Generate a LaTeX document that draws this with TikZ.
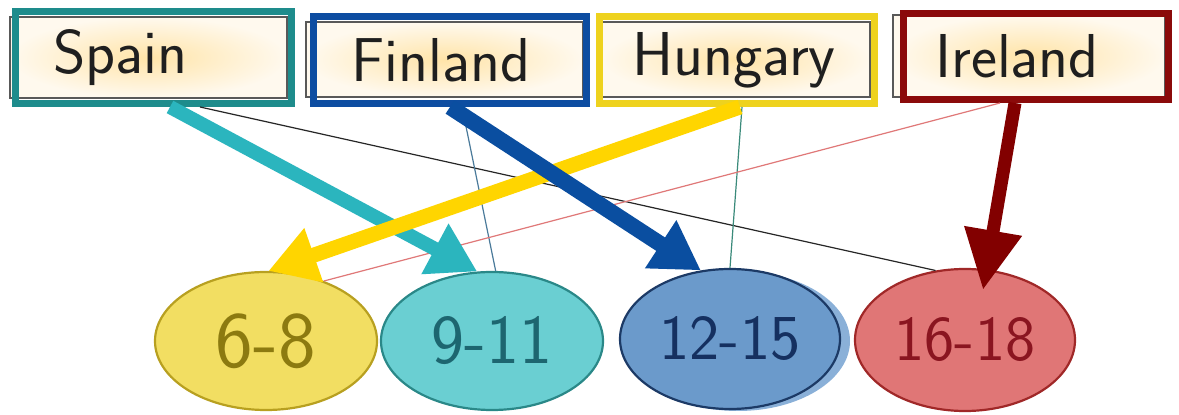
\documentclass[tikz,border=0pt]{standalone}
\usepackage{fontspec}
\usetikzlibrary{arrows.meta,shapes.geometric,calc}
\definecolor{tealframe}{HTML}{1E8C8C}
\definecolor{blueframe}{HTML}{0D4DA1}
\definecolor{yellowframe}{HTML}{EED21E}
\definecolor{redframe}{HTML}{8B0A0A}
\definecolor{tealarrow}{HTML}{2BB5BE}
\definecolor{bluearrow}{HTML}{0A4EA0}
\definecolor{yellowarrow}{HTML}{FFD500}
\definecolor{redarrow}{HTML}{820000}
\definecolor{creamout}{HTML}{FFF9EE}
\definecolor{creamin}{HTML}{FFE4A8}
\definecolor{yfill}{HTML}{F2DE62}
\definecolor{ydraw}{HTML}{B8A020}
\definecolor{ytext}{HTML}{8C7A10}
\definecolor{tfill}{HTML}{6ACFD2}
\definecolor{tdraw}{HTML}{2A8888}
\definecolor{ttext}{HTML}{1D6670}
\definecolor{bfill}{HTML}{6B9ACB}
\definecolor{bshadow}{HTML}{8AB0D8}
\definecolor{bdraw}{HTML}{1C3A66}
\definecolor{btext}{HTML}{153060}
\definecolor{rfill}{HTML}{E07676}
\definecolor{rdraw}{HTML}{A02828}
\definecolor{rtext}{HTML}{8A1520}
\definecolor{thinblue}{HTML}{4A7A9A}
\definecolor{thingreen}{HTML}{3A8A7A}
\definecolor{thinsalmon}{HTML}{E07878}
\begin{document}
\begin{tikzpicture}[x=1pt,y=1pt,
  boxframe/.style={draw, line width=7pt, inner sep=0pt, minimum height=92pt,
    font=\sffamily\fontsize{62}{62}\selectfont, text=black!88},
  innerbox/.style={draw=black!65, line width=1.3pt, shading=radial,
    inner color=creamin, outer color=creamout},
  agebubble/.style={ellipse, draw, line width=2.2pt, minimum width=222pt,
    minimum height=138pt, inner sep=0pt},
  bigarrow/.style={-{Triangle[length=48pt,width=54pt]}, line width=15pt},
  thinline/.style={line width=1.2pt}]
\useasboundingbox (0,0) rectangle (1179,415);
\fill[white] (0,0) rectangle (1179,415);
% inner boxes
\path[innerbox] (10,317) rectangle (287,398);
\path[innerbox] (306,318) rectangle (583,393);
\path[innerbox] (602,318) rectangle (870,393);
\path[innerbox] (893,318) rectangle (1165,400);
% frames with labels
\node[boxframe, draw=tealframe, minimum width=276pt] (spain) at (153.5,357.5) {\hspace*{-66pt}Spain};
\node[boxframe, draw=blueframe, minimum width=273pt, minimum height=87pt] (finland) at (450,355) {\hspace*{-18pt}Finland};
\node[boxframe, draw=yellowframe, minimum width=275pt, minimum height=87pt] (hungary) at (737,355) {\hspace*{-6pt}Hungary};
\node[boxframe, draw=redframe, minimum width=265pt, minimum height=86pt] (ireland) at (1036,358.5) {\hspace*{-38pt}Ireland};
% ellipses
\fill[bshadow] (738,74) ellipse [x radius=112, y radius=70];
\node[agebubble, fill=yfill, draw=ydraw, text=ytext, font=\sffamily\fontsize{80}{80}\selectfont] (e68) at (266,74) {6-8};
\node[agebubble, fill=tfill, draw=tdraw, text=ttext, font=\sffamily\fontsize{70}{70}\selectfont] (e911) at (492,74) {9-11};
\node[agebubble, fill=bfill, draw=bdraw, text=btext, minimum width=220pt, minimum height=140pt, font=\sffamily\fontsize{64}{64}\selectfont] (e1215) at (730,76) {12-15};
\node[agebubble, fill=rfill, draw=rdraw, text=rtext, minimum width=220pt, minimum height=142pt, font=\sffamily\fontsize{64}{64}\selectfont] (e1618) at (965,75) {16-18};
% thin connectors
\draw[thinline, black!85] ([xshift=46.5pt]spain.south) -- (e1618.113);
\draw[thinline, thinblue] ([xshift=12pt]finland.south) -- (e911.87);
\draw[thinline, thingreen] ([xshift=5pt]hungary.south) -- (e1215.90);
\draw[thinline, thinsalmon] ([xshift=-36pt]ireland.south) -- (e68.46);
% thick arrows
\draw[bigarrow, tealarrow, line width=14pt] ([xshift=16.5pt]spain.south) -- (e911.102);
\draw[bigarrow, yellowarrow] ([xshift=3pt]hungary.south) -- (e68.88);
\draw[bigarrow, bluearrow, line width=16pt] ([xshift=0pt]finland.south) -- (e1215.113);
\draw[bigarrow, redarrow, line width=13pt, -{Triangle[length=60pt,width=55pt]}] ([xshift=-21pt]ireland.south) -- ($(e1618.center)+(18,50)$);
\end{tikzpicture}
\end{document}
